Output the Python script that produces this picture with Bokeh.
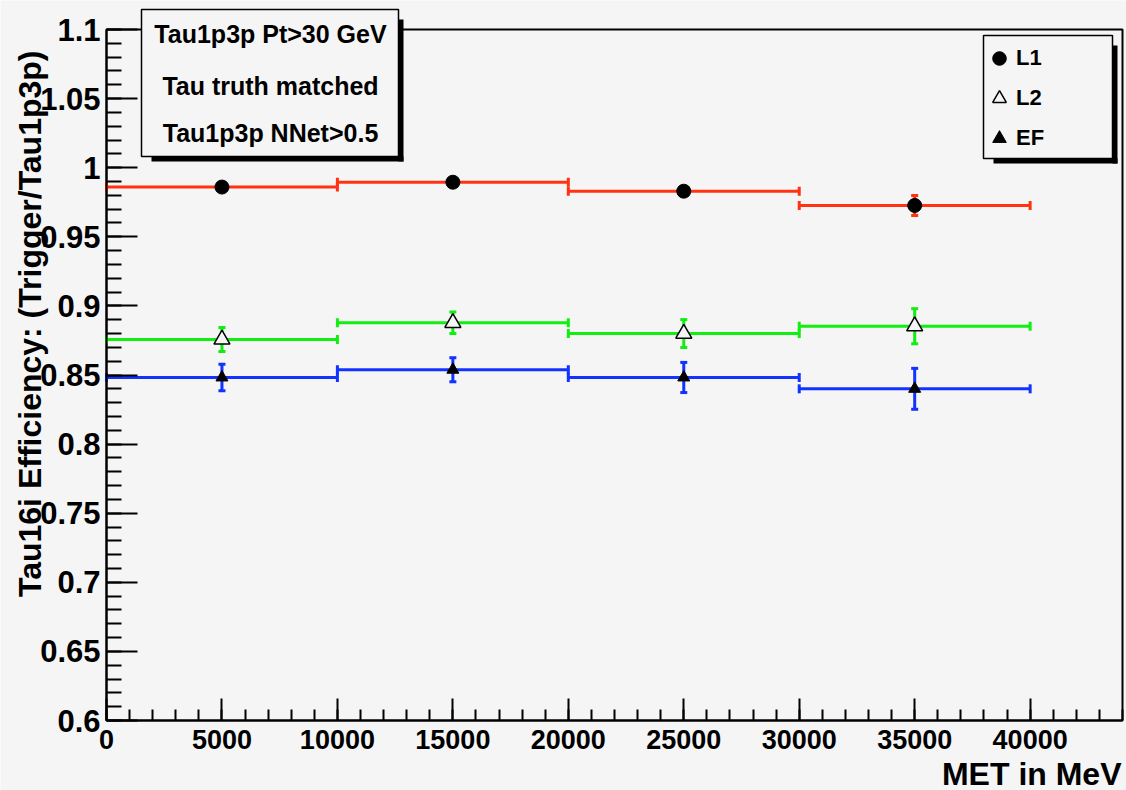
import math
from bokeh.plotting import figure
from bokeh.models import (ColumnDataSource, Whisker, TeeHead, FixedTicker, Label,
                          BoxAnnotation, Legend, LegendItem, Range1d)
from bokeh.embed import file_html
from bokeh.resources import INLINE

# MET bins (MeV)
bin_lo = [0, 10000, 20000, 30000]
bin_hi = [10000, 20000, 30000, 40000]
bin_center = [5000, 15000, 25000, 35000]

# Tau16i trigger efficiencies per level, with their errors
l1_eff = [0.986, 0.9895, 0.983, 0.9727]
l1_err = [0.003, 0.003, 0.003, 0.0072]
l2_eff = [0.8757, 0.8878, 0.880, 0.8853]
l2_err = [0.0087, 0.0078, 0.0101, 0.0127]
ef_eff = [0.8482, 0.8538, 0.8482, 0.840]
ef_err = [0.0096, 0.0087, 0.0109, 0.0148]

x_ticks = [0, 5000, 10000, 15000, 20000, 25000, 30000, 35000, 40000]
x_minor = [v * 1000 for v in range(0, 45)]
y_ticks = [0.6, 0.65, 0.7, 0.75, 0.8, 0.85, 0.9, 0.95, 1.0, 1.05, 1.1]
y_tick_labels = ["0.6", "0.65", "0.7", "0.75", "0.8", "0.85", "0.9", "0.95", "1", "1.05", "1.1"]
y_minor = [round(0.6 + 0.01 * k, 2) for k in range(0, 51)]

info_lines = ["Tau1p3p Pt>30 GeV", "Tau truth matched", "Tau1p3p NNet>0.5"]
series_names = ["L1", "L2", "EF"]

BG = "#f5f5f5"
RED = "#ff3311"
GREEN = "#11ee11"
BLUE = "#1133ff"
FONT = "Liberation Sans"

# canvas size and the pixel box of the axes area inside it
W, H = 1126, 790
AX_L, AX_R, AX_T, AX_B = 106, 1122, 29, 720
X0, X1 = 0, 44000
Y0, Y1 = 0.6, 1.1

# the drawing area covers the whole canvas; axes sit at fixed data locations
kx = (AX_R - AX_L) / (X1 - X0)
ky = (AX_B - AX_T) / (Y1 - Y0)
x_range = Range1d(X0 - AX_L / kx, X1 + (W - AX_R) / kx)
y_range = Range1d(Y0 - (H - AX_B) / ky, Y1 + AX_T / ky)

p = figure(width=W, height=H, x_range=x_range, y_range=y_range,
           output_backend="svg", toolbar_location=None, min_border=0)
p.background_fill_color = BG
p.border_fill_color = BG
p.outline_line_color = None
p.xgrid.visible = False
p.ygrid.visible = False

for ax in (p.xaxis[0], p.yaxis[0]):
    ax.axis_line_width = 2
    ax.major_tick_line_width = 2
    ax.minor_tick_line_width = 2
    ax.major_tick_out = 0
    ax.minor_tick_out = 0
    ax.major_label_text_font = FONT
    ax.major_label_text_font_style = "bold"
    ax.major_label_text_color = "black"

xa = p.xaxis[0]
xa.fixed_location = Y0
xa.bounds = (X0, X1)
xa.ticker = FixedTicker(ticks=x_ticks, minor_ticks=x_minor)
xa.major_tick_in = 22
xa.minor_tick_in = 11
xa.major_label_standoff = 9
xa.major_label_text_font_size = "27px"

ya = p.yaxis[0]
ya.fixed_location = X0
ya.bounds = (Y0, Y1)
ya.ticker = FixedTicker(ticks=y_ticks, minor_ticks=y_minor)
ya.major_label_overrides = {t: s for t, s in zip(y_ticks, y_tick_labels)}
ya.major_tick_in = 31
ya.minor_tick_in = 15
ya.major_label_standoff = 6
ya.major_label_text_font_size = "31px"

# top and right edges of the axes box
p.add_layout(BoxAnnotation(left=X0, right=X1, bottom=Y0, top=Y1, fill_alpha=0,
                           line_color="black", line_width=2, line_alpha=1, level="underlay"))


def sx(px):
    return px


def sy(py):
    return H - py


def series(eff, err, color):
    src = ColumnDataSource(dict(
        x=bin_center, lo=bin_lo, hi=bin_hi, y=eff,
        ylo=[e - d for e, d in zip(eff, err)],
        yhi=[e + d for e, d in zip(eff, err)],
    ))
    # horizontal bin-width bars with end caps
    p.add_layout(Whisker(source=src, base="y", lower="lo", upper="hi", dimension="width",
                         line_color=color, line_width=3,
                         lower_head=TeeHead(size=9, line_color=color, line_width=3),
                         upper_head=TeeHead(size=9, line_color=color, line_width=3)))
    # vertical statistical errors
    p.add_layout(Whisker(source=src, base="x", lower="ylo", upper="yhi", dimension="height",
                         line_color=color, line_width=3,
                         lower_head=TeeHead(size=7, line_color=color, line_width=3),
                         upper_head=TeeHead(size=7, line_color=color, line_width=3)))
    return src


s1 = series(l1_eff, l1_err, RED)
s2 = series(l2_eff, l2_err, GREEN)
s3 = series(ef_eff, ef_err, BLUE)

r1 = p.scatter("x", "y", source=s1, marker="circle", size=14,
               fill_color="black", line_color="black")
r2 = p.scatter("x", "y", source=s2, marker="triangle", size=16,
               fill_color=BG, line_color="black", line_width=1.5)
r3 = p.scatter("x", "y", source=s3, marker="triangle", size=12,
               fill_color="black", line_color="black")


def screen_box(left, top, right, bottom, **kw):
    return BoxAnnotation(left=sx(left), right=sx(right), top=sy(top), bottom=sy(bottom),
                         left_units="screen", right_units="screen",
                         top_units="screen", bottom_units="screen", **kw)


def pave(left, top, right, bottom):
    # shadow bars on the right and bottom, then the framed box
    p.add_layout(screen_box(right, top + 10, right + 5, bottom + 5,
                            fill_color="black", fill_alpha=1, line_color=None))
    p.add_layout(screen_box(left + 10, bottom, right + 5, bottom + 5,
                            fill_color="black", fill_alpha=1, line_color=None))
    p.add_layout(screen_box(left, top, right, bottom, fill_color=BG, fill_alpha=1,
                            line_color="black", line_width=1.5, line_alpha=1))


# selection info box
pave(141, 9, 398, 156)
for line, cy in zip(info_lines, [33, 85, 132]):
    p.add_layout(Label(x=sx(270), y=sy(cy), x_units="screen", y_units="screen", text=line,
                       text_align="center", text_baseline="middle", text_font=FONT,
                       text_font_style="bold", text_font_size="25px", text_color="black"))

# legend box
pave(983, 35, 1112, 158)
legend = Legend(items=[LegendItem(label=n, renderers=[r]) for n, r in zip(series_names, [r1, r2, r3])],
                location=(sx(982), sy(155)), glyph_width=34, glyph_height=34, label_height=34,
                spacing=6, padding=0, margin=0, label_standoff=0,
                border_line_color=None, background_fill_alpha=0,
                label_text_font=FONT, label_text_font_style="bold", label_text_font_size="22px",
                label_text_color="black")
p.add_layout(legend)

# axis titles
p.add_layout(Label(x=sx(1121), y=sy(773), x_units="screen", y_units="screen", text="MET in MeV",
                   text_align="right", text_baseline="middle", text_font=FONT,
                   text_font_style="bold", text_font_size="32px", text_color="black"))
p.add_layout(Label(x=sx(29), y=sy(50), x_units="screen", y_units="screen",
                   text="Tau16i Efficiency: (Trigger/Tau1p3p)", angle=math.pi / 2,
                   text_align="right", text_baseline="middle", text_font=FONT,
                   text_font_style="bold", text_font_size="32px", text_color="black"))

open("out.html", "w").write(file_html(p, INLINE))
